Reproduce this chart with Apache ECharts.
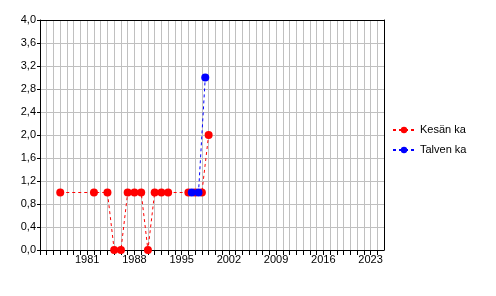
<!DOCTYPE html>
<html><head><meta charset="utf-8">
<script src="https://cdn.jsdelivr.net/npm/echarts@6/dist/echarts.min.js"></script>
<style>html,body{margin:0;padding:0;background:#fff}#c{width:496px;height:296px}</style>
</head><body><div id="c"></div>
<script>
const summerYears = [1977, 1982, 1984, 1985, 1986, 1987, 1988, 1989, 1990, 1991, 1992, 1993, 1996, 1997, 1998, 1999];
const summerValues = [1, 1, 1, 0, 0, 1, 1, 1, 0, 1, 1, 1, 1, 1, 1, 2];
const winterYears = [1996.5, 1997.5, 1998.5];
const winterValues = [1, 1, 3];
const xLabelYears = [1981, 1988, 1995, 2002, 2009, 2016, 2023];
const yTicks = [0, 0.4, 0.8, 1.2, 1.6, 2.0, 2.4, 2.8, 3.2, 3.6, 4.0];
const seriesNames = ['Kesän ka', 'Talven ka'];

const font = 'Liberation Sans';
const xMin = 1974, xMax = 2025;
const chart = echarts.init(document.getElementById('c'), null, {renderer: 'canvas'});
const borderAxis = {show: true, lineStyle: {color: '#000', width: 1}};
chart.setOption({
  animation: false,
  backgroundColor: '#fff',
  grid: {left: 40, right: 112, top: 20, bottom: 46, show: false},
  xAxis: [{
    type: 'value', min: xMin, max: xMax, interval: 1,
    axisLine: {show: true, onZero: false, lineStyle: {color: '#000', width: 1}},
    axisTick: {show: true, length: 5, inside: false, lineStyle: {color: '#000'}},
    splitLine: {show: true, lineStyle: {color: '#c0c0c0', width: 1}},
    axisLabel: {
      color: '#000', fontFamily: font, fontSize: 11, margin: 4, showMinLabel: true, showMaxLabel: false,
      formatter: v => xLabelYears.indexOf(Math.round(v)) >= 0 ? String(Math.round(v)) : ''
    }
  }, {
    type: 'value', position: 'top', min: xMin, max: xMax, interval: 1,
    axisLine: {show: true, onZero: false, lineStyle: {color: '#000', width: 1}},
    axisTick: {show: false}, splitLine: {show: false}, axisLabel: {show: false}
  }],
  yAxis: [{
    type: 'value', min: yTicks[0], max: yTicks[yTicks.length - 1], interval: 0.4,
    axisLine: {show: true, onZero: false, lineStyle: {color: '#000', width: 1}},
    axisTick: {show: true, length: 3, lineStyle: {color: '#000'}},
    splitLine: {show: true, lineStyle: {color: '#c0c0c0', width: 1}},
    axisLabel: {color: '#000', fontFamily: font, fontSize: 11, margin: 4,
      formatter: v => v.toFixed(1).replace('.', ',')}
  }, {
    type: 'value', position: 'right', min: yTicks[0], max: yTicks[yTicks.length - 1], interval: 0.4,
    axisLine: {show: true, onZero: false, lineStyle: {color: '#000', width: 1}},
    axisTick: {show: false}, splitLine: {show: false}, axisLabel: {show: false}
  }],
  legend: {
    orient: 'vertical', left: 392, top: 123, padding: 0, itemWidth: 22, itemHeight: 8, itemGap: 6,
    textStyle: {color: '#000', fontFamily: font, fontSize: 11, lineHeight: 14},
    data: seriesNames
  },
  series: [
    {
      name: seriesNames[0], type: 'line', z: 2,
      data: summerYears.map((y, i) => [y, summerValues[i]]),
      symbol: 'circle', symbolSize: 8, color: '#ff0000',
      itemStyle: {color: '#ff0000'},
      lineStyle: {color: '#ff0000', width: 1, type: [3, 3]}
    },
    {
      name: seriesNames[1], type: 'line', z: 3,
      data: winterYears.map((y, i) => [y, winterValues[i]]),
      symbol: 'circle', symbolSize: 8, color: '#0000ff',
      itemStyle: {color: '#0000ff'},
      lineStyle: {color: '#0000ff', width: 1, type: [3, 3]}
    }
  ]
});
</script></body></html>
